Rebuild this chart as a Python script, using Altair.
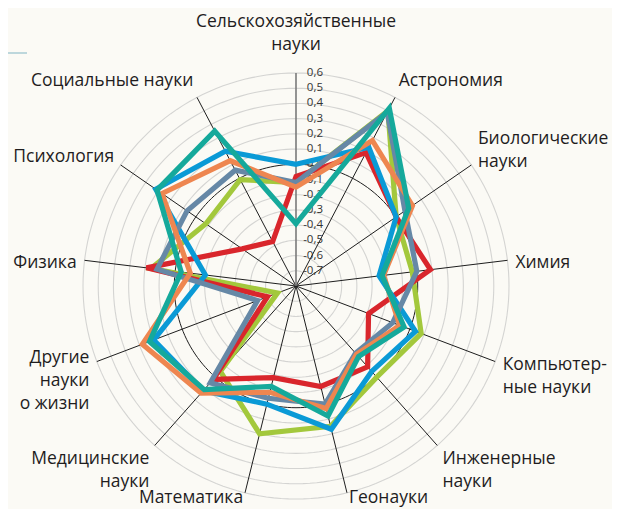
import altair as alt
import pandas as pd

# ---------------- data ----------------
categories = [
    "Сельскохозяйственные\nнауки",
    "Астрономия",
    "Биологические\nнауки",
    "Химия",
    "Компьютер-\nные науки",
    "Инженерные\nнауки",
    "Геонауки",
    "Математика",
    "Медицинские\nнауки",
    "Другие\nнауки\nо жизни",
    "Физика",
    "Психология",
    "Социальные науки",
]

series_names = ["Серия 1", "Серия 2", "Серия 3", "Серия 4", "Серия 5", "Серия 6"]
series_colors = ["#A3C83C", "#D9262C", "#0A9AD6", "#6688A6", "#EE8650", "#15A99B"]

green_vals = [-0.12, 0.50, 0.00, -0.03, 0.08, 0.00, 0.15, 0.20, -0.05, -0.67, 0.16, -0.08, -0.01]
red_vals = [-0.08, 0.19, 0.00, 0.09, -0.29, -0.09, -0.12, -0.18, 0.02, -0.60, 0.19, -0.37, -0.47]
blue_vals = [0.00, 0.23, 0.00, -0.25, 0.04, -0.05, 0.17, 0.00, 0.12, 0.20, -0.20, 0.32, 0.20]
slate_vals = [-0.12, 0.49, 0.07, 0.00, -0.12, -0.21, 0.00, -0.04, 0.05, -0.53, 0.12, 0.07, 0.06]
orange_vals = [-0.15, 0.28, 0.13, -0.22, -0.07, -0.20, 0.03, -0.08, 0.14, 0.28, -0.10, 0.27, 0.13]
teal_vals = [-0.39, 0.52, 0.10, -0.23, -0.04, -0.18, 0.08, -0.12, 0.11, 0.23, -0.04, 0.31, 0.35]

all_vals = [green_vals, red_vals, blue_vals, slate_vals, orange_vals, teal_vals]

tick_values = [0.6, 0.5, 0.4, 0.3, 0.2, 0.1, 0.0, -0.1, -0.2, -0.3, -0.4, -0.5, -0.6, -0.7]
tick_labels = ["0,6", "0,5", "0,4", "0,3", "0,2", "0,1", "0,0",
               "-0,1", "-0,2", "-0,3", "-0,4", "-0,5", "-0,6", "-0,7"]

R_MIN, R_MAX = -0.8, 0.6

# ---------------- layout ----------------
W, H = 604, 501
CX, CY = 288, 278
R_PX = 213
SPAN = R_MAX - R_MIN
K = R_PX / SPAN
N = len(categories)
xdom = [-CX / K, (W - CX) / K]
ydom = [-(H - CY) / K, CY / K]
FONT = "Open Sans"


def X(field):
    return alt.X(field, type="quantitative",
                 scale=alt.Scale(domain=xdom, nice=False, zero=False), axis=None)


def Y(field):
    return alt.Y(field, type="quantitative",
                 scale=alt.Scale(domain=ydom, nice=False, zero=False), axis=None)


layers = []

# rings
ring_df = pd.DataFrame({"ring": tick_values})
rings = (
    alt.Chart(ring_df)
    .transform_calculate(ang="sequence(0, 362, 2)")
    .transform_flatten(["ang"])
    .transform_calculate(
        x=f"(datum.ring - ({R_MIN})) * sin(datum.ang * PI / 180)",
        y=f"(datum.ring - ({R_MIN})) * cos(datum.ang * PI / 180)",
        zero="abs(datum.ring) < 0.001 ? 'z' : 'g'",
    )
)
layers.append(
    rings.transform_filter("datum.zero == 'g'")
    .mark_line(stroke="#D4D4D2", strokeWidth=1.1)
    .encode(x=X("x"), y=Y("y"), detail="ring:N", order="ang:Q")
)
layers.append(
    rings.transform_filter("datum.zero == 'z'")
    .mark_line(stroke="#1E1E1E", strokeWidth=1)
    .encode(x=X("x"), y=Y("y"), detail="ring:N", order="ang:Q")
)

# spokes
cat_df = pd.DataFrame({"cat": categories, "idx": list(range(N))})
spokes = alt.Chart(cat_df).transform_calculate(
    a=f"datum.idx * 2 * PI / {N}",
    x0="0",
    y0="0",
    x2=f"{SPAN} * sin(datum.a)",
    y2=f"{SPAN} * cos(datum.a)",
)
layers.append(
    spokes.transform_filter("datum.idx > 0")
    .mark_rule(stroke="#1E1E1E", strokeWidth=1)
    .encode(x=X("x0"), y=Y("y0"), x2="x2:Q", y2="y2:Q")
)
layers.append(
    spokes.transform_filter("datum.idx == 0")
    .mark_rule(stroke="#7A7A7A", strokeWidth=1.6)
    .encode(x=X("x0"), y=Y("y0"), x2="x2:Q", y2="y2:Q")
)

# value tick labels
tick_df = pd.DataFrame({"v": tick_values, "label": tick_labels})
layers.append(
    alt.Chart(tick_df)
    .transform_calculate(x0="0", y=f"datum.v - ({R_MIN})")
    .mark_text(align="right", baseline="middle", dx=27, fontSize=11.5,
               font=FONT, color="#333333")
    .encode(x=X("x0"), y=Y("y"), text="label:N")
)

# series polygons
for name, vals, color in zip(series_names, all_vals, series_colors):
    df = pd.DataFrame({"series": name, "idx": list(range(N)), "value": vals})
    layers.append(
        alt.Chart(df)
        .transform_calculate(
            a=f"datum.idx * 2 * PI / {N}",
            r=f"datum.value - ({R_MIN})",
            x="datum.r * sin(datum.a)",
            y="datum.r * cos(datum.a)",
        )
        .mark_line(interpolate="linear-closed", stroke=color, strokeWidth=5.2,
                   strokeJoin="miter", strokeMiterLimit=4)
        .encode(x=X("x"), y=Y("y"), order="idx:Q")
    )

# category labels
LAB_R = 221 / K
LH = 23
Y_MIN_LABEL = ydom[0] + 11 / K
labels = alt.Chart(cat_df).transform_calculate(
    a=f"datum.idx * 2 * PI / {N}",
    nl="length(split(datum.cat, '\\n'))",
    lx=f"{LAB_R} * sin(datum.a)",
    ly0=(f"{LAB_R} * cos(datum.a) + cos(datum.a) * datum.nl * {LH / 2} / {K}"
         f" + (datum.nl - 1) * {LH / 2} / {K}"
         f" - 5 * pow(sin(datum.a), 2) / {K}"),
    ly=f"max(datum.ly0, {Y_MIN_LABEL})",
    al="sin(datum.a) > 0.05 ? 'left' : (sin(datum.a) < -0.05 ? 'right' : 'center')",
)
for al, dy in [("left", 0), ("right", 0), ("center", -9)]:
    layers.append(
        labels.transform_filter(f"datum.al == '{al}'")
        .mark_text(align=al, baseline="middle", lineBreak="\n", lineHeight=LH,
                   fontSize=17.5, font=FONT, color="#1F1D1E", dy=dy)
        .encode(x=X("lx"), y=Y("ly"), text="cat:N")
    )

# small decorative rule at top-left
layers.append(
    alt.Chart(pd.DataFrame({"d": [0]}))
    .mark_rule(stroke="#A9CBD3", strokeWidth=1.5)
    .encode(x=alt.value(0), x2=alt.value(19), y=alt.value(45))
)

chart = (
    alt.layer(*layers)
    .properties(width=W, height=H, autosize="none", padding=0,
                background="#FBFAF5")
    .configure_view(strokeWidth=0)
)

chart.save("out.html", embed_options={"renderer": "svg", "actions": False})
